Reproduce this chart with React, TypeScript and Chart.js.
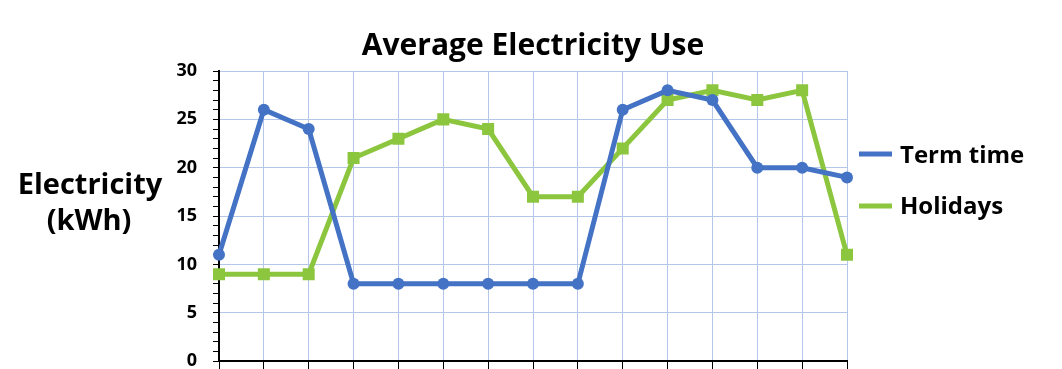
import React, { useEffect, useRef } from "react";
import { Chart, registerables } from "chart.js";

Chart.register(...registerables);

const categories: string[] = ["1", "2", "3", "4", "5", "6", "7", "8", "9", "10", "11", "12", "13", "14", "15"];
const termTime: number[] = [11, 26, 24, 8, 8, 8, 8, 8, 8, 26, 28, 27, 20, 20, 19];
const holidays: number[] = [9, 9, 9, 21, 23, 25, 24, 17, 17, 22, 27, 28, 27, 28, 11];
const seriesNames: string[] = ["Term time", "Holidays"];
const titleText = "Average Electricity Use";
const yTitleLines: string[] = ["Electricity", "(kWh)"];

const BLUE = "#4472C4";
const GREEN = "#8CC63F";
const GRID = "#B4C6EA";
const FONT = "'Open Sans', 'DejaVu Sans', sans-serif";

const customPlugin = {
  id: "customText",
  afterDraw(chart: any) {
    const ctx = chart.ctx as CanvasRenderingContext2D;
    const area = chart.chartArea;
    ctx.save();
    ctx.fillStyle = "#000";
    // Chart title, centred over the plot area
    ctx.font = `bold 30px ${FONT}`;
    ctx.textAlign = "center";
    ctx.textBaseline = "alphabetic";
    ctx.fillText(titleText, (area.left + area.right) / 2, 55);
    // Y axis title (horizontal, two lines)
    ctx.font = `bold 29px ${FONT}`;
    ctx.fillText(yTitleLines[0], 90, 194);
    ctx.fillText(yTitleLines[1], 89, 230);
    // Legend
    ctx.font = `bold 24px ${FONT}`;
    ctx.textAlign = "left";
    const items = chart.data.datasets;
    const lineYs = [154, 206];
    const textYs = [163, 214];
    items.forEach((ds: any, i: number) => {
      ctx.strokeStyle = ds.borderColor;
      ctx.lineWidth = 5;
      ctx.beginPath();
      ctx.moveTo(859, lineYs[i]);
      ctx.lineTo(892, lineYs[i]);
      ctx.stroke();
      ctx.fillStyle = "#000";
      ctx.fillText(ds.label, 900, textYs[i]);
    });
    ctx.restore();
  },
};

export default function App() {
  const ref = useRef<HTMLCanvasElement | null>(null);
  useEffect(() => {
    if (!ref.current) return;
    const chart = new Chart(ref.current, {
      type: "line",
      data: {
        labels: categories,
        datasets: [
          {
            label: seriesNames[0],
            data: termTime,
            borderColor: BLUE,
            backgroundColor: BLUE,
            borderWidth: 5,
            pointStyle: "circle",
            pointRadius: 6,
            pointBorderWidth: 0,
            tension: 0,
          },
          {
            label: seriesNames[1],
            data: holidays,
            borderColor: GREEN,
            backgroundColor: GREEN,
            borderWidth: 5,
            pointStyle: "rect",
            pointRadius: 8.5,
            pointBorderWidth: 0,
            tension: 0,
          },
        ],
      },
      options: {
        responsive: false,
        animation: false,
        layout: { padding: { left: 0, right: 215, top: 71, bottom: 0 } },
        plugins: {
          legend: { display: false },
          tooltip: { enabled: false },
          title: { display: false },
        },
        scales: {
          x: {
            type: "category",
            offset: false,
            grid: {
              color: GRID,
              lineWidth: 1,
              drawTicks: true,
              tickLength: 8,
              tickColor: "#000",
            },
            border: { color: "#000", width: 2 },
            ticks: { display: false },
            afterFit: (scale: any) => {
              scale.height = 7;
            },
          },
          y: {
            min: 0,
            max: 30,
            grid: {
              color: (c: any) => (c.tick && c.tick.value % 5 === 0 ? GRID : "rgba(0,0,0,0)"),
              lineWidth: 1,
              drawTicks: true,
              tickLength: 6,
              tickColor: "#000",
            },
            border: { color: "#000", width: 2 },
            ticks: {
              stepSize: 1,
              autoSkip: false,
              padding: 16,
              color: "#000",
              font: { family: FONT, size: 18, weight: "bold" },
              callback: (v: any) => (Number(v) % 5 === 0 ? String(v) : ""),
            },
            afterFit: (scale: any) => {
              scale.width = 219;
            },
          },
        },
      },
      plugins: [customPlugin],
    });
    return () => chart.destroy();
  }, []);
  return (
    <div style={{ position: "absolute", left: 0, top: 0, width: 1062, height: 388, background: "#fff" }}>
      <canvas ref={ref} width={1062} height={388} />
    </div>
  );
}
